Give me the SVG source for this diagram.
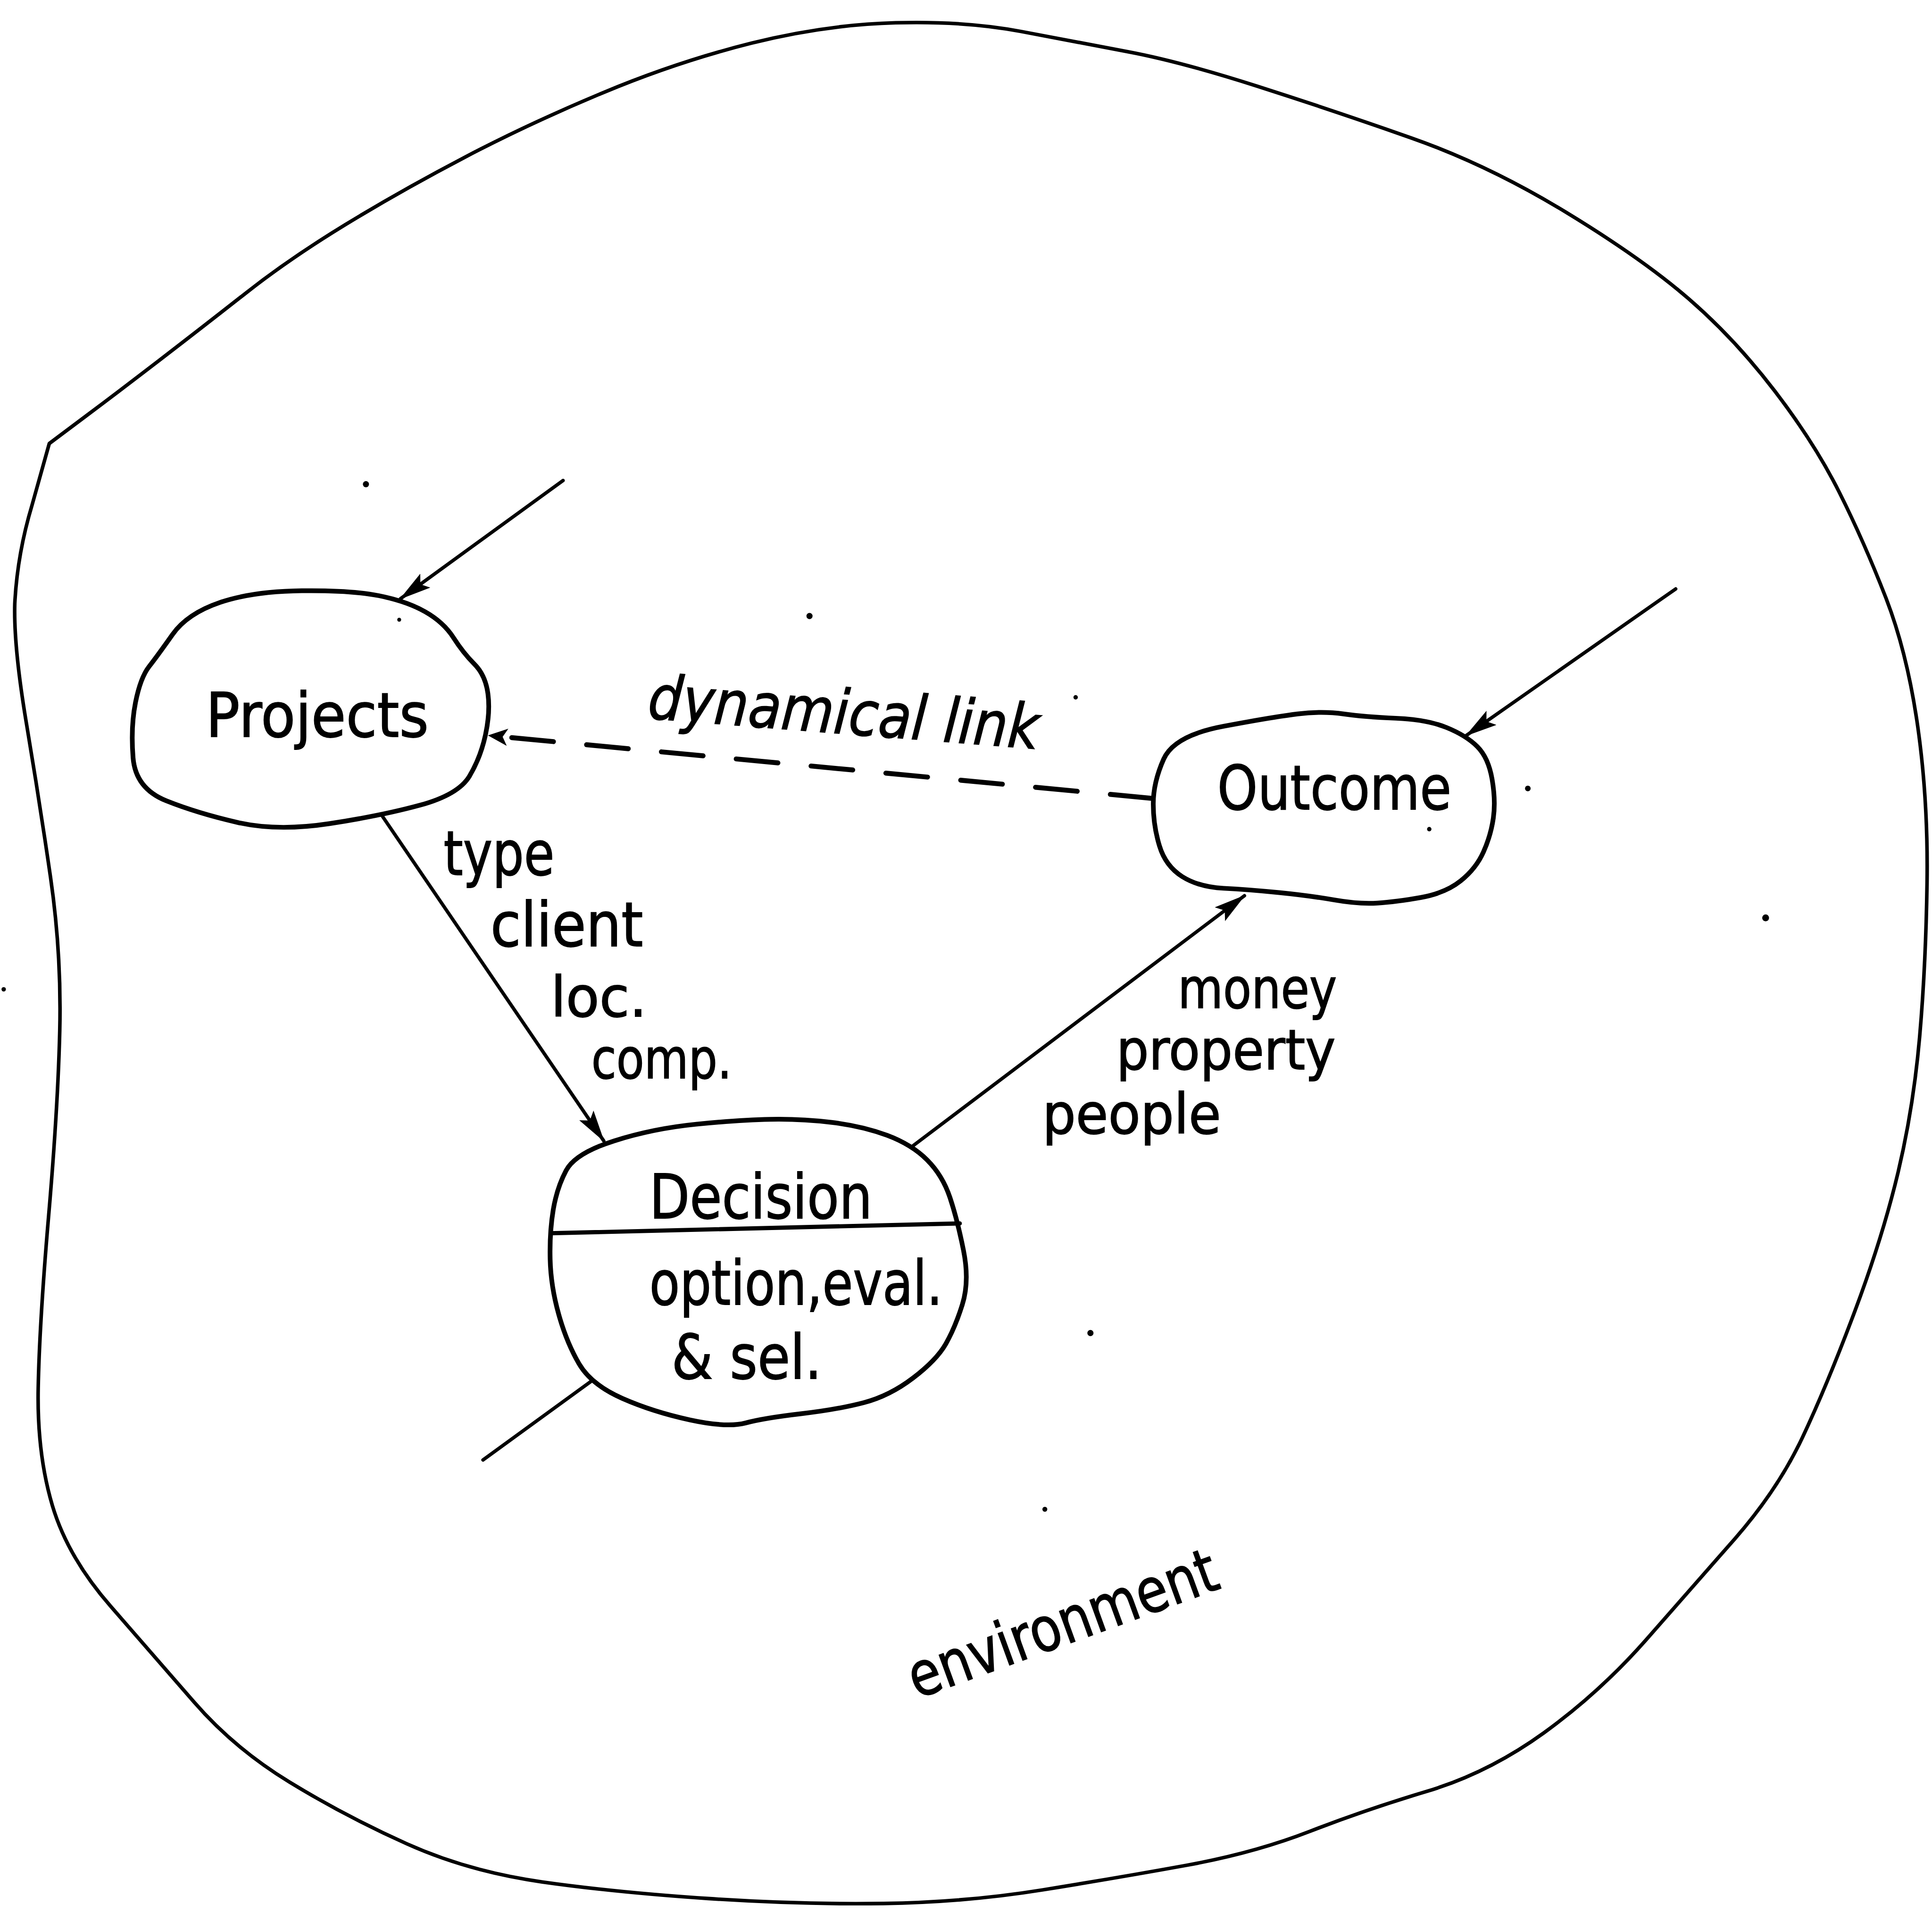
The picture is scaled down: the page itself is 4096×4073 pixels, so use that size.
<svg xmlns="http://www.w3.org/2000/svg" width="4096" height="4073" viewBox="0 0 4096 4073">
<style>
.env{fill:none;stroke:#000;stroke-width:2.9;stroke-linejoin:round;stroke-linecap:round}
.node{fill:#fff;stroke:#000;stroke-width:3.8;stroke-linejoin:round;stroke-linecap:round}
.div{fill:none;stroke:#000;stroke-width:3.4;stroke-linecap:round}
.conn{fill:none;stroke:#000;stroke-width:2.8;stroke-linecap:round}
.dash{fill:none;stroke:#000;stroke-width:4;stroke-linecap:round;stroke-dasharray:34 27}
.lbl{font-family:"DejaVu Sans","Liberation Sans",sans-serif;font-size:50px;fill:#000;stroke:#000;stroke-width:0.7}
.sm{font-size:45px}
.speck{fill:#000}
</style>
<defs>
<marker id="ah" markerUnits="userSpaceOnUse" viewBox="0 0 26 14" markerWidth="26" markerHeight="14" refX="25" refY="7" orient="auto">
<path d="M0,0 L26,7 L0,14 L5,7 Z" fill="#000"/>
</marker>
<marker id="ahs" markerUnits="userSpaceOnUse" viewBox="0 0 16 14" markerWidth="16" markerHeight="14" refX="15" refY="7" orient="auto">
<path d="M0,0 L16,7 L0,14 L4,7 Z" fill="#000"/>
</marker>
</defs>
<rect width="4096" height="4073" fill="#fff"/>
<g transform="scale(2.6122)">
<g id="environment">
<path class="env" d="M40,360 L70,337.5 Q100,315 132.5,290 Q165,265 200,237.5 Q235,210 280,182.5 Q325,155 377.5,127.5 Q430,100 490,75 Q550,50 610,35 Q670,20 727,18.5 Q784,17 828.5,25.5 Q873,34 915.5,42 Q958,50 1020.5,70 Q1083,90 1145.5,112 Q1208,134 1270.5,172 Q1333,210 1370.5,242.5 Q1408,275 1440.5,317.5 Q1473,360 1493,400 Q1513,440 1530.5,485 Q1548,530 1556.5,590 Q1565,650 1564,717 Q1563,784 1558,841.5 Q1553,899 1540.5,951.5 Q1528,1004 1505.5,1064 Q1483,1124 1463,1166.5 Q1443,1209 1408,1249 Q1373,1289 1335.5,1331.5 Q1298,1374 1253,1406.5 Q1208,1439 1158,1454 Q1108,1469 1063,1486.5 Q1018,1504 963,1514 Q908,1524 846,1534 Q784,1544 717,1545 Q650,1546 575,1541 Q500,1536 440,1527.5 Q380,1519 330,1496.5 Q280,1474 235,1446.5 Q190,1419 157.5,1381.5 Q125,1344 90,1304 Q55,1264 42.5,1222 Q30,1180 31,1127 Q32,1074 39.5,986.5 Q47,899 48.5,836.5 Q50,774 41,712 Q32,650 21.5,587.5 Q11,525 12,490 Q14,450 26,410 Z"/>
<text class="lbl" transform="translate(744,1379) rotate(-20)" textLength="264" lengthAdjust="spacingAndGlyphs">environment</text>
</g>
<g id="connectors">
<line class="conn" x1="457" y1="390" x2="325" y2="486" marker-end="url(#ah)"/>
<line class="conn" x1="1360" y1="478" x2="1190" y2="597" marker-end="url(#ah)"/>
<line class="conn" x1="310" y1="662" x2="490" y2="926" marker-end="url(#ah)"/>
<line class="conn" x1="741" y1="930" x2="1010" y2="727" marker-end="url(#ah)"/>
<line class="conn" x1="480" y1="1121" x2="392" y2="1185"/>
<path class="dash" d="M935,648 L397,597" marker-end="url(#ahs)"/>
<text class="lbl" font-style="italic" transform="translate(525,583) rotate(4.5)" textLength="318" lengthAdjust="spacingAndGlyphs">dynamical link</text>
<text class="lbl" x="360" y="710" textLength="90" lengthAdjust="spacingAndGlyphs">type</text>
<text class="lbl" x="398" y="768" textLength="124" lengthAdjust="spacingAndGlyphs">client</text>
<text class="lbl sm" x="447" y="825" textLength="78" lengthAdjust="spacingAndGlyphs">loc.</text>
<text class="lbl sm" x="480" y="875" textLength="114" lengthAdjust="spacingAndGlyphs">comp.</text>
<text class="lbl sm" x="956" y="818" textLength="129" lengthAdjust="spacingAndGlyphs">money</text>
<text class="lbl sm" x="906" y="868" textLength="178" lengthAdjust="spacingAndGlyphs">property</text>
<text class="lbl sm" x="846" y="920" textLength="145" lengthAdjust="spacingAndGlyphs">people</text>
</g>
<g id="projects">
<path class="node" d="M178.5,489 Q205,480 245,479.5 Q285,479 307.5,483.5 Q330,488 345,496.5 Q360,505 368,517.5 Q376,530 385,539 Q394,548 396,563 Q398,578 394,596.5 Q390,615 381,630 Q372,645 341,653.5 Q310,662 267.5,668.5 Q225,675 192.5,667.5 Q160,660 135,650 Q110,640 108,615 Q106,590 110,570 Q114,550 121,541 Q128,532 140,515 Q152,498 178.5,489 Z"/>
<text class="lbl" x="167" y="598" textLength="181" lengthAdjust="spacingAndGlyphs">Projects</text>
</g>
<g id="outcome">
<path class="node" d="M944.5,616 Q953,597 993,589.5 Q1033,582 1053,579.5 Q1073,577 1090.5,579.5 Q1108,582 1133,583 Q1158,584 1174,590.5 Q1190,597 1199,606 Q1208,615 1211,632.5 Q1214,650 1212,664 Q1210,678 1204,691.5 Q1198,705 1185.5,715 Q1173,725 1153,728.5 Q1133,732 1118,733 Q1103,734 1083,730.5 Q1063,727 1038,724.5 Q1013,722 993,721 Q973,720 959.5,711.5 Q946,703 941,686.5 Q936,670 936,652.5 Q936,635 944.5,616 Z"/>
<text class="lbl" x="988" y="657" textLength="190" lengthAdjust="spacingAndGlyphs">Outcome</text>
</g>
<g id="decision">
<path class="node" d="M459.5,950 Q467,936 498.5,926 Q530,916 565,912.5 Q600,909 625,908.5 Q650,908 675,911 Q700,914 720,921.5 Q740,929 752.5,941.5 Q765,954 771,972 Q777,990 782,1015 Q787,1040 781,1059 Q775,1078 767.5,1091 Q760,1104 741,1118.5 Q722,1133 701,1138.5 Q680,1144 650,1147.5 Q620,1151 605,1155 Q590,1159 560,1152.5 Q530,1146 505,1135 Q480,1124 470,1107 Q460,1090 453.5,1067 Q447,1044 446.5,1022 Q446,1000 449,982 Q452,964 459.5,950 Z"/>
<line class="div" x1="447" y1="1001" x2="779" y2="993"/>
<text class="lbl" x="527" y="989" textLength="181" lengthAdjust="spacingAndGlyphs">Decision</text>
<text class="lbl" x="527" y="1059" textLength="238" lengthAdjust="spacingAndGlyphs">option,eval.</text>
<text class="lbl" x="545" y="1119" textLength="122" lengthAdjust="spacingAndGlyphs">&amp; sel.</text>
</g>
<g id="specks">
<circle class="speck" cx="297" cy="393" r="2.5"/>
<circle class="speck" cx="657" cy="500" r="2.5"/>
<circle class="speck" cx="1240" cy="640" r="2.3"/>
<circle class="speck" cx="1433" cy="745" r="2.8"/>
<circle class="speck" cx="885" cy="1082" r="2.5"/>
<circle class="speck" cx="848" cy="1225" r="2"/>
<circle class="speck" cx="873" cy="566" r="1.8"/>
<circle class="speck" cx="1160" cy="673" r="1.8"/>
<circle class="speck" cx="324" cy="503" r="1.6"/>
<circle class="speck" cx="3" cy="803" r="1.8"/>
</g>
</g>
</svg>
